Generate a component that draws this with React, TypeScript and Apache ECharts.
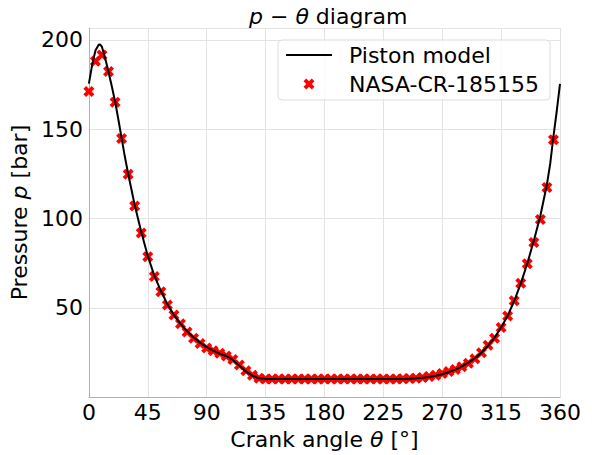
import React, { useEffect, useRef } from "react";
import * as echarts from "echarts";

// Measured data (NASA-CR-185155), crank angle in degrees, pressure in bar
const thetaData = [
  0, 5, 10, 15, 20, 25, 30, 35, 40, 45, 50, 55, 60, 65, 70, 75, 80, 85, 90, 95,
  100, 105, 110, 115, 120, 125, 130, 135, 140, 145, 150, 155, 160, 165, 170, 175,
  180, 185, 190, 195, 200, 205, 210, 215, 220, 225, 230, 235, 240, 245, 250, 255,
  260, 265, 270, 275, 280, 285, 290, 295, 300, 305, 310, 315, 320, 325, 330, 335,
  340, 345, 350, 355,
];
const pressureData = [
  171, 188, 191.5, 182.2, 165, 144.8, 124.8, 107, 91.8, 78.5, 67.5, 59, 51.5, 46,
  41, 36.5, 33, 30, 27.5, 26, 24.5, 23, 21, 18, 14.8, 12.2, 10.5, 10.2, 10.2,
  10.2, 10.2, 10.2, 10.2, 10.2, 10.2, 10.2, 10.2, 10.2, 10.2, 10.2, 10.2, 10.2,
  10.2, 10.2, 10.2, 10.2, 10.2, 10.2, 10.3, 10.4, 10.6, 11, 11.5, 12.3, 13.2,
  14.3, 15.5, 17, 19, 21.5, 24.8, 29, 33, 39, 45.4, 54, 63.7, 74.7, 86.6, 99.4,
  117.3, 144,
];

// Piston model curve
const thetaModel = [
  0, 2.5, 5, 7.5, 8.5, 10, 12.5, 15, 17.5, 20, 22.5, 25, 27.5, 30, 35, 40, 45, 50,
  55, 60, 65, 70, 75, 80, 85, 90, 95, 100, 105, 110, 115, 120, 125, 130, 135, 180,
  240, 245, 250, 255, 260, 265, 270, 275, 280, 285, 290, 295, 300, 305, 310, 315,
  320, 325, 330, 335, 340, 345, 350, 352.5, 355, 357.5, 360,
];
const pressureModel = [
  175.5, 186, 194, 197.2, 197.4, 196, 189.5, 182, 174, 165.5, 155.5, 145, 134.5,
  125, 107.5, 92.5, 79, 68, 59.5, 52, 46, 41, 37, 33.5, 30.5, 28, 26, 24.3, 23,
  20.8, 17.5, 14.4, 11.9, 10.5, 10.2, 10.2, 10.2, 10.3, 10.5, 10.8, 11.2, 11.9,
  12.8, 14, 15.4, 17.2, 19.3, 21.8, 24.9, 28.7, 33.3, 39, 45.6, 53.8, 63.5, 74.8,
  87.5, 101.5, 119, 130.5, 146, 160, 175.3,
];

const xTicks = [0, 45, 90, 135, 180, 225, 270, 315, 360];
const yTicks = [50, 100, 150, 200];

const FONT = "DejaVu Sans";
const X_PATH =
  "path://M0,2.5 L2.5,0 L5,2.5 L7.5,0 L10,2.5 L7.5,5 L10,7.5 L7.5,10 L5,7.5 L2.5,10 L0,7.5 L2.5,5 Z";
const LINE_ICON = "path://M0,0 L46,0 L46,2 L0,2 Z";

export default function App() {
  const ref = useRef<HTMLDivElement>(null);
  useEffect(() => {
    if (!ref.current) return;
    const chart = echarts.init(ref.current, undefined, { renderer: "svg" });
    const option = {
      animation: false,
      backgroundColor: "#ffffff",
      textStyle: { fontFamily: FONT },
      title: {
        text: "{i|p}{n| − }{i|θ}{n| diagram}",
        left: 244,
        top: 0,
        textStyle: {
          fontWeight: "normal",
          rich: {
            i: { fontFamily: FONT, fontSize: 22, fontStyle: "italic", fontWeight: "normal", color: "#000" },
            n: { fontFamily: FONT, fontSize: 22, fontWeight: "normal", color: "#000" },
          },
        },
      },
      grid: { left: 86, right: 32, top: 28, bottom: 51, containLabel: false },
      legend: {
        orient: "vertical",
        left: 278,
        top: 40,
        padding: [4, 11, 5, 8],
        itemGap: 7,
        itemWidth: 46,
        itemHeight: 11,
        backgroundColor: "rgba(255,255,255,0.8)",
        borderColor: "#dddddd",
        borderWidth: 1,
        borderRadius: 4,
        textStyle: { fontFamily: FONT, fontSize: 22, color: "#000", padding: [0, 0, 0, 12] },
        data: [
          { name: "Piston model", icon: LINE_ICON, itemStyle: { color: "#000000" } },
          { name: "NASA-CR-185155", icon: X_PATH, itemStyle: { color: "#ff0000", opacity: 1 } },
        ],
      },
      xAxis: {
        type: "value",
        min: 0,
        max: 360,
        interval: 45,
        name: "Crank angle {i|θ} [°]",
        nameLocation: "middle",
        nameGap: 25,
        nameTextStyle: {
          fontFamily: FONT,
          fontSize: 22,
          color: "#000",
          rich: { i: { fontFamily: FONT, fontSize: 22, fontStyle: "italic", color: "#000" } },
        },
        axisLine: { show: true, lineStyle: { color: "#b0b0b0", width: 1 } },
        axisTick: { show: false },
        axisLabel: {
          fontFamily: FONT,
          fontSize: 22,
          color: "#000",
          margin: 4,
          formatter: (v: number) => (xTicks.includes(v) ? String(v) : ""),
        },
        splitLine: { show: true, lineStyle: { color: "#e3e3e3", width: 1 } },
      },
      yAxis: {
        type: "value",
        min: 0,
        max: 206.6,
        interval: 50,
        name: "Pressure {i|p} [bar]",
        nameLocation: "middle",
        nameGap: 46,
        nameTextStyle: {
          fontFamily: FONT,
          fontSize: 22,
          color: "#000",
          rich: { i: { fontFamily: FONT, fontSize: 22, fontStyle: "italic", color: "#000" } },
        },
        axisLine: { show: true, lineStyle: { color: "#b0b0b0", width: 1 } },
        axisTick: { show: false },
        axisLabel: {
          fontFamily: FONT,
          fontSize: 22,
          color: "#000",
          margin: 6,
          showMaxLabel: false,
          formatter: (v: number) => (yTicks.includes(v) ? String(v) : ""),
        },
        splitLine: { show: true, lineStyle: { color: "#e3e3e3", width: 1 } },
      },
      series: [
        {
          name: "Piston model",
          type: "line",
          data: thetaModel.map((t, i) => [t, pressureModel[i]]),
          symbol: "none",
          showSymbol: false,
          lineStyle: { color: "#000000", width: 2 },
          itemStyle: { color: "#000000" },
          z: 3,
        },
        {
          name: "NASA-CR-185155",
          type: "scatter",
          data: thetaData.map((t, i) => [t, pressureData[i]]),
          symbol: X_PATH,
          symbolSize: 11,
          itemStyle: { color: "#ff0000", opacity: 1 },
          z: 2,
        },
      ],
    };
    chart.setOption(option as any);
    return () => chart.dispose();
  }, []);
  return <div ref={ref} style={{ width: 592, height: 455, position: "absolute", left: 0, top: 0 }} />;
}
